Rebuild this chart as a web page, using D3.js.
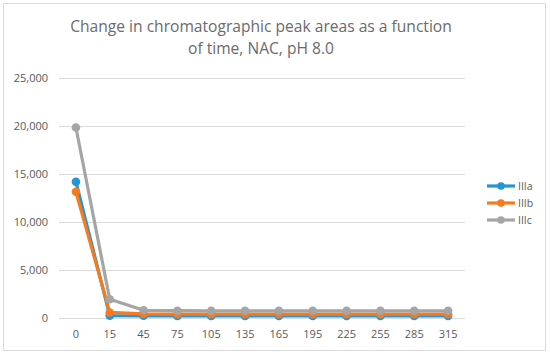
<!DOCTYPE html>
<html><head><meta charset="utf-8">
<script src="https://cdn.jsdelivr.net/npm/d3@7"></script>
<style>body{margin:0;background:#fff}svg{display:block}text{font-family:"Open Sans",sans-serif}</style>
</head><body><svg id="c" width="550" height="355"></svg>
<script>
const categories = ["0","15","45","75","105","135","165","195","225","255","285","315"];
const seriesNames = ["IIIa","IIIb","IIIc"];
const IIIa = [14200,250,230,220,220,220,220,220,220,220,220,220];
const IIIb = [13150,580,420,400,400,400,400,400,400,400,400,400];
const IIIc = [19850,1950,800,760,750,750,750,750,750,750,750,750];
const yTicks = [0,5000,10000,15000,20000,25000];
const colors = ["#2196d6","#f77b1e","#a5a5a5"];
const seriesData = [IIIa, IIIb, IIIc];

const svg = d3.select("#c");
svg.append("rect").attr("x",3.5).attr("y",3.5).attr("width",542).attr("height",347)
  .attr("fill","#fff").attr("stroke","#d9d9d9");

svg.append("text").attr("x",261).attr("y",32).attr("text-anchor","middle")
  .attr("font-size",15.6).attr("fill","#6b6b6b").text("Change in chromatographic peak areas as a function");
svg.append("text").attr("x",261).attr("y",54).attr("text-anchor","middle")
  .attr("font-size",15.6).attr("fill","#6b6b6b").text("of time, NAC, pH 8.0");

const x = d3.scaleBand().domain(categories).range([59,465]);
const y = d3.scaleLinear().domain([0,25000]).range([318,78]);

const grid = svg.append("g");
yTicks.forEach(t=>{
  grid.append("line").attr("x1",59).attr("x2",465).attr("y1",Math.round(y(t))+0.5).attr("y2",Math.round(y(t))+0.5)
    .attr("stroke","#d9d9d9").attr("stroke-width",1);
});

const yAxis = svg.append("g").attr("transform","translate(48,0)")
  .call(d3.axisLeft(y).tickValues(yTicks).tickFormat(d3.format(",")).tickSize(0).tickPadding(0));
yAxis.select(".domain").remove();
yAxis.selectAll("text").attr("font-size",11).attr("fill","#595959").attr("font-family","Open Sans, sans-serif");

const xAxis = svg.append("g").attr("transform","translate(0,334)")
  .call(d3.axisBottom(x).tickSize(0).tickPadding(0));
xAxis.select(".domain").remove();
xAxis.selectAll("text").attr("font-size",11).attr("fill","#595959").attr("font-family","Open Sans, sans-serif").attr("dy","0.35em");

const line = d3.line().x((d,i)=>x(categories[i])+x.bandwidth()/2).y(d=>y(d));
seriesData.forEach((s,k)=>{
  const g = svg.append("g");
  g.append("path").datum(s).attr("d",line).attr("fill","none").attr("stroke",colors[k])
    .attr("stroke-width",3.2).attr("stroke-linejoin","round");
  g.selectAll("circle").data(s).join("circle")
    .attr("cx",(d,i)=>x(categories[i])+x.bandwidth()/2).attr("cy",d=>y(d)).attr("r",4.3).attr("fill",colors[k]);
});

const leg = svg.append("g");
seriesNames.forEach((n,k)=>{
  const yy = 186 + k*17;
  leg.append("line").attr("x1",487).attr("x2",515).attr("y1",yy).attr("y2",yy).attr("stroke",colors[k]).attr("stroke-width",3.2);
  leg.append("circle").attr("cx",501).attr("cy",yy).attr("r",3.8).attr("fill",colors[k]);
  leg.append("text").attr("x",518).attr("y",yy).attr("dy","0.35em").attr("font-size",10.5).attr("fill","#595959").text(n);
});
</script></body></html>
